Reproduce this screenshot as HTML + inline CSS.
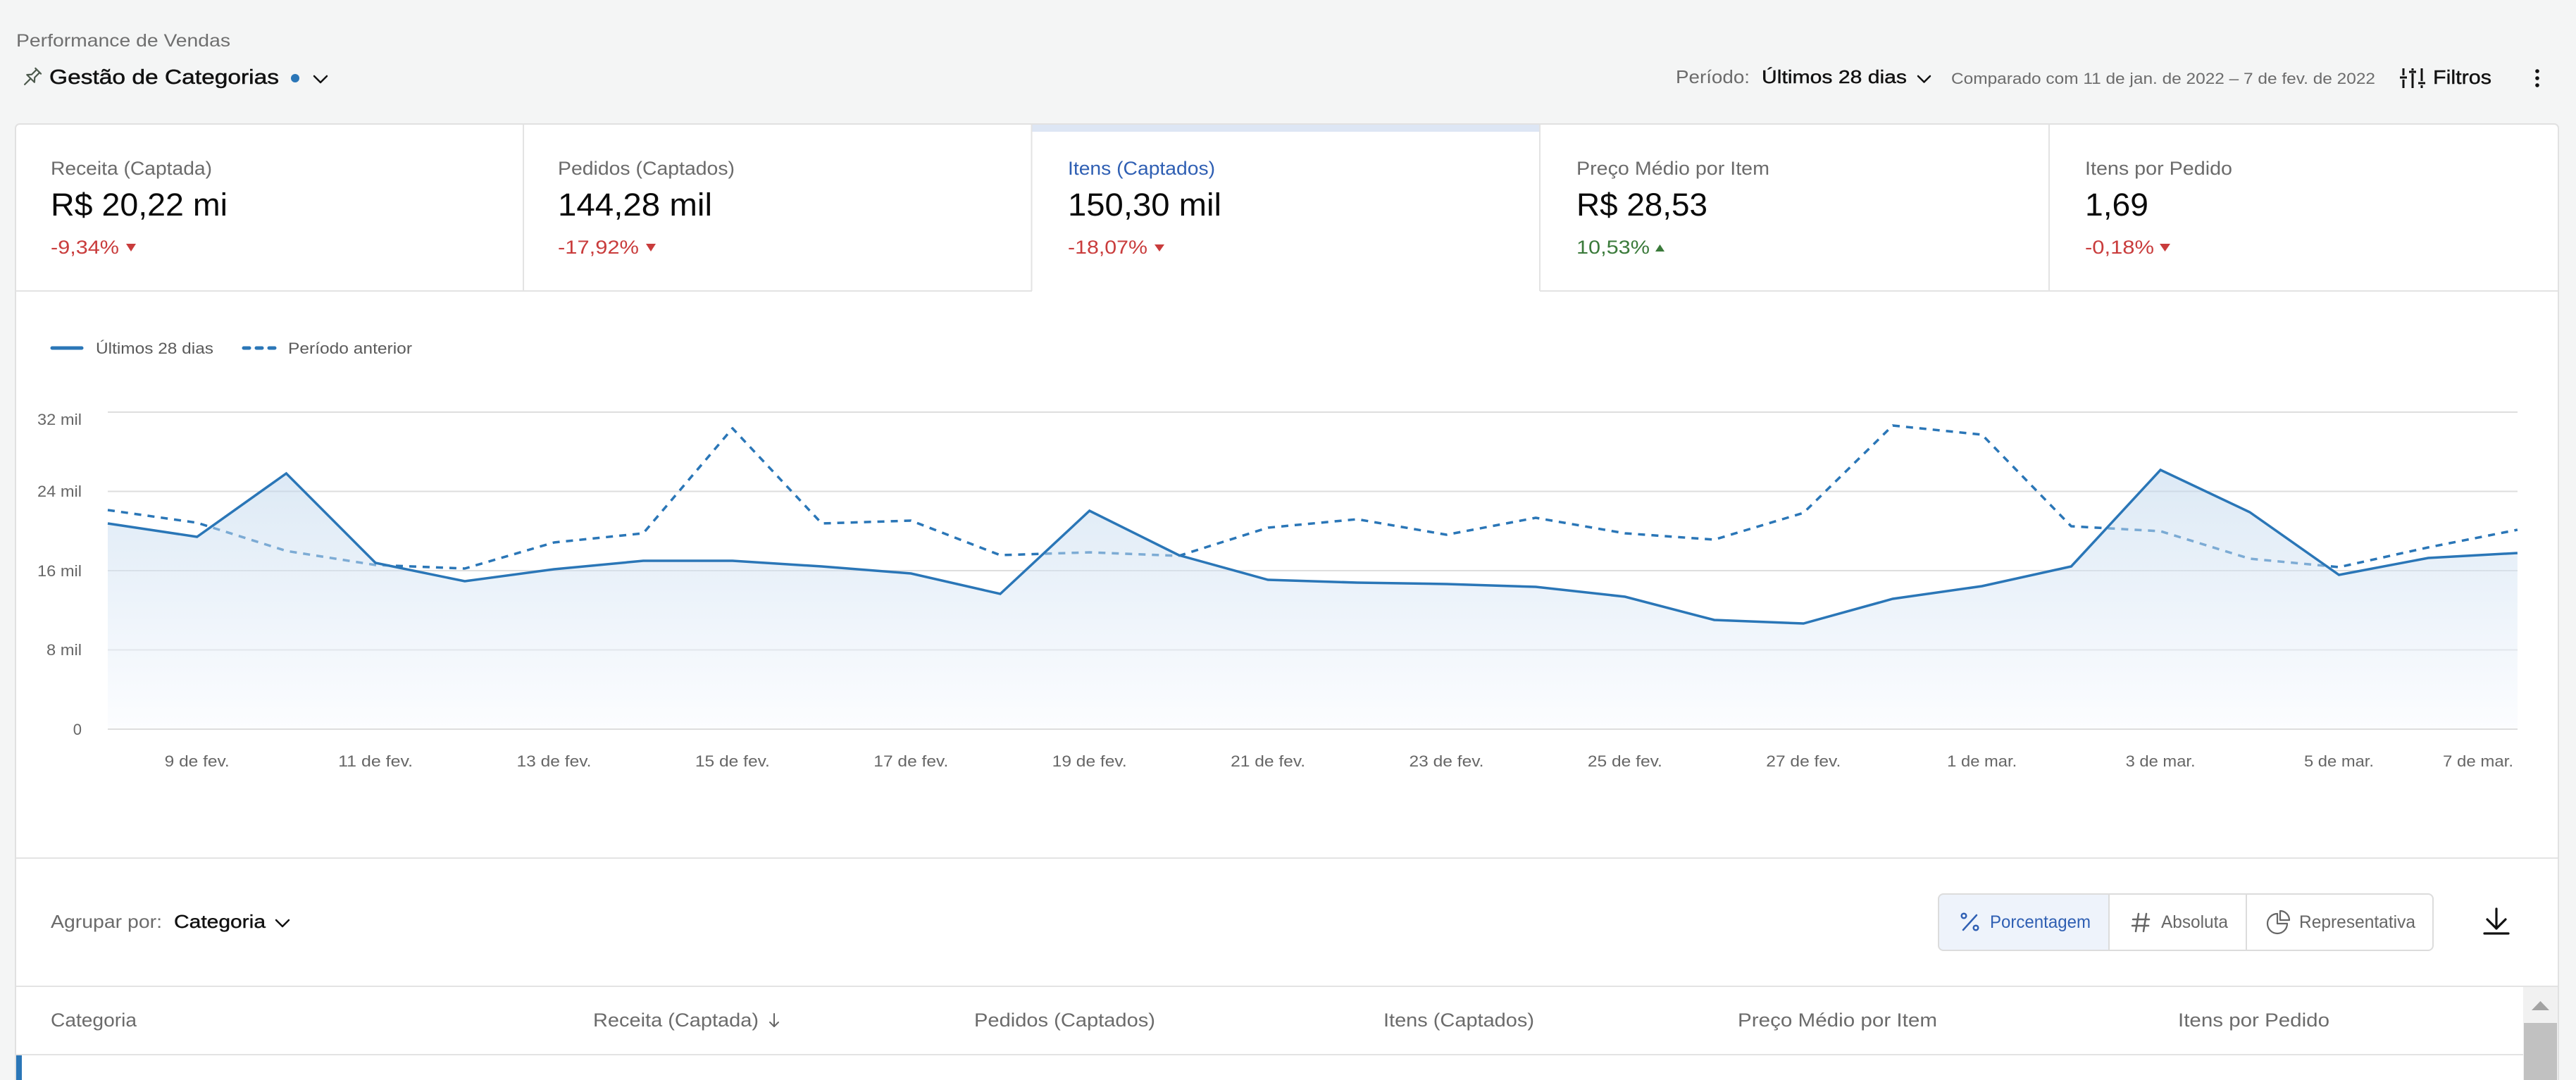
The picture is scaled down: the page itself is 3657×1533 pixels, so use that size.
<!DOCTYPE html>
<html>
<head>
<meta charset="utf-8">
<style>
  html,body{margin:0;padding:0;background:#f4f5f5;}
  svg{display:block;}
  text{font-family:"Liberation Sans", sans-serif;}
</style>
</head>
<body>
<svg width="3657" height="1533" viewBox="0 0 3657 1533" xmlns="http://www.w3.org/2000/svg">
  <defs>
    <linearGradient id="areaGrad" gradientUnits="userSpaceOnUse" x1="0" y1="585" x2="0" y2="1035">
      <stop offset="0" stop-color="#adcbe7"/>
      <stop offset="1" stop-color="#f9fbff"/>
    </linearGradient>
  </defs>

  <!-- page background -->
  <rect x="0" y="0" width="3657" height="1533" fill="#f4f5f5"/>

  <!-- ===== Top header ===== -->
  <text x="23" y="66" font-size="25" fill="#6f6f6f" textLength="304" lengthAdjust="spacingAndGlyphs">Performance de Vendas</text>

  <!-- pin icon -->
  <g transform="translate(45,110) rotate(45)" stroke="#4d5a4d" stroke-width="2.2" fill="none" stroke-linejoin="round" stroke-linecap="round">
    <path d="M-5.5,-13 H5.5 M-3,-13 V-3 L-7.5,2 H7.5 L3,-3 V-13 M0,2 V14"/>
  </g>
  <text x="70" y="119" font-size="29" fill="#111" stroke="#111" stroke-width="0.5" textLength="326" lengthAdjust="spacingAndGlyphs">Gestão de Categorias</text>
  <circle cx="419" cy="111" r="6" fill="#2a76b7"/>
  <polyline points="446,108 455,117 464,108" fill="none" stroke="#111" stroke-width="2.5" stroke-linecap="round" stroke-linejoin="round"/>

  <!-- right header -->
  <text x="2379" y="118" font-size="26" fill="#6b6b6b" textLength="105" lengthAdjust="spacingAndGlyphs">Período:</text>
  <text x="2501" y="118" font-size="26" fill="#111" stroke="#111" stroke-width="0.4" textLength="206" lengthAdjust="spacingAndGlyphs">Últimos 28 dias</text>
  <polyline points="2723,108 2731.5,116.5 2740,108" fill="none" stroke="#111" stroke-width="2.5" stroke-linecap="round" stroke-linejoin="round"/>
  <text x="2770" y="119" font-size="22" fill="#6b6b6b" textLength="602" lengthAdjust="spacingAndGlyphs">Comparado com 11 de jan. de 2022 – 7 de fev. de 2022</text>

  <!-- filter icon -->
  <g stroke="#111" stroke-width="3" stroke-linecap="butt">
    <line x1="3412" y1="97" x2="3412" y2="107"/>
    <line x1="3412" y1="113" x2="3412" y2="125"/>
    <line x1="3407" y1="110" x2="3417" y2="110"/>
    <line x1="3425" y1="97" x2="3425" y2="100"/>
    <line x1="3425" y1="104" x2="3425" y2="125"/>
    <line x1="3420" y1="102" x2="3430" y2="102"/>
    <line x1="3438" y1="97" x2="3438" y2="115"/>
    <line x1="3438" y1="121" x2="3438" y2="125"/>
    <line x1="3433" y1="118" x2="3443" y2="118"/>
  </g>
  <text x="3454" y="119" font-size="28" fill="#111" stroke="#111" stroke-width="0.4" textLength="83" lengthAdjust="spacingAndGlyphs">Filtros</text>
  <circle cx="3602" cy="101" r="2.8" fill="#111"/>
  <circle cx="3602" cy="111" r="2.8" fill="#111"/>
  <circle cx="3602" cy="121" r="2.8" fill="#111"/>

  <!-- ===== Main card ===== -->
  <rect x="22" y="176" width="3610" height="1420" rx="6" fill="#ffffff" stroke="#e1e1e1" stroke-width="2"/>

  <!-- KPI row -->
  <rect x="1465" y="177" width="720" height="10" fill="#dde6f4"/>
  <g stroke="#e3e3e3" stroke-width="2">
    <line x1="743" y1="177" x2="743" y2="413"/>
    <line x1="1464.5" y1="177" x2="1464.5" y2="413"/>
    <line x1="2186" y1="177" x2="2186" y2="413"/>
    <line x1="2909" y1="177" x2="2909" y2="413"/>
    <line x1="22" y1="413" x2="1465" y2="413"/>
    <line x1="2186" y1="413" x2="3632" y2="413"/>
  </g>

  <!-- card 1 -->
  <text x="72" y="248" font-size="27" fill="#6b6b6b" textLength="229" lengthAdjust="spacingAndGlyphs">Receita (Captada)</text>
  <text x="72" y="306" font-size="45" fill="#0a0a0a" textLength="251" lengthAdjust="spacingAndGlyphs">R$ 20,22 mi</text>
  <text x="72" y="360" font-size="27" fill="#c93c3c" textLength="97" lengthAdjust="spacingAndGlyphs">-9,34%</text>
  <polygon points="179,346 193,346 186,357" fill="#c93c3c"/>

  <!-- card 2 -->
  <text x="792" y="248" font-size="27" fill="#6b6b6b" textLength="251" lengthAdjust="spacingAndGlyphs">Pedidos (Captados)</text>
  <text x="792" y="306" font-size="45" fill="#0a0a0a" textLength="219" lengthAdjust="spacingAndGlyphs">144,28 mil</text>
  <text x="792" y="360" font-size="27" fill="#c93c3c" textLength="115" lengthAdjust="spacingAndGlyphs">-17,92%</text>
  <polygon points="917,346 931,346 924,357" fill="#c93c3c"/>

  <!-- card 3 (selected) -->
  <text x="1516" y="248" font-size="27" fill="#2f5fb3" textLength="209" lengthAdjust="spacingAndGlyphs">Itens (Captados)</text>
  <text x="1516" y="306" font-size="45" fill="#0a0a0a" textLength="218" lengthAdjust="spacingAndGlyphs">150,30 mil</text>
  <text x="1516" y="360" font-size="27" fill="#c93c3c" textLength="113" lengthAdjust="spacingAndGlyphs">-18,07%</text>
  <polygon points="1639,347 1653,347 1646,357" fill="#c93c3c"/>

  <!-- card 4 -->
  <text x="2238" y="248" font-size="27" fill="#6b6b6b" textLength="274" lengthAdjust="spacingAndGlyphs">Preço Médio por Item</text>
  <text x="2238" y="306" font-size="45" fill="#0a0a0a" textLength="186" lengthAdjust="spacingAndGlyphs">R$ 28,53</text>
  <text x="2238" y="360" font-size="27" fill="#3a7a3a" textLength="104" lengthAdjust="spacingAndGlyphs">10,53%</text>
  <polygon points="2350,357 2363,357 2356.5,347" fill="#3a7a3a"/>

  <!-- card 5 -->
  <text x="2960" y="248" font-size="27" fill="#6b6b6b" textLength="209" lengthAdjust="spacingAndGlyphs">Itens por Pedido</text>
  <text x="2960" y="306" font-size="45" fill="#0a0a0a" textLength="90" lengthAdjust="spacingAndGlyphs">1,69</text>
  <text x="2960" y="360" font-size="27" fill="#c93c3c" textLength="98" lengthAdjust="spacingAndGlyphs">-0,18%</text>
  <polygon points="3066,346 3081,346 3073.5,357" fill="#c93c3c"/>

  <!-- ===== Legend ===== -->
  <line x1="74" y1="494" x2="116" y2="494" stroke="#2a76b7" stroke-width="5" stroke-linecap="round"/>
  <text x="136" y="502" font-size="22" fill="#5a5a5a" textLength="167" lengthAdjust="spacingAndGlyphs">Últimos 28 dias</text>
  <g stroke="#2a76b7" stroke-width="5" stroke-linecap="round">
    <line x1="346" y1="494" x2="354" y2="494"/>
    <line x1="364" y1="494" x2="372" y2="494"/>
    <line x1="382" y1="494" x2="390" y2="494"/>
  </g>
  <text x="409" y="502" font-size="22" fill="#5a5a5a" textLength="176" lengthAdjust="spacingAndGlyphs">Período anterior</text>

  <!-- ===== Chart ===== -->
  <!-- gridlines -->
  <g stroke="#dedede" stroke-width="2">
    <line x1="153" y1="585" x2="3574" y2="585"/>
    <line x1="153" y1="697.5" x2="3574" y2="697.5"/>
    <line x1="153" y1="810" x2="3574" y2="810"/>
    <line x1="153" y1="922.5" x2="3574" y2="922.5"/>
    <line x1="153" y1="1035" x2="3574" y2="1035"/>
  </g>
  <!-- y labels -->
  <g font-size="22" fill="#666" text-anchor="end">
    <text x="116" y="603" textLength="63" lengthAdjust="spacingAndGlyphs">32 mil</text>
    <text x="116" y="705" textLength="63" lengthAdjust="spacingAndGlyphs">24 mil</text>
    <text x="116" y="818" textLength="63" lengthAdjust="spacingAndGlyphs">16 mil</text>
    <text x="116" y="930" textLength="50" lengthAdjust="spacingAndGlyphs">8 mil</text>
    <text x="116" y="1043">0</text>
  </g>

  <!-- dashed series (previous period) -->
  <polyline fill="none" stroke="#2a76b7" stroke-width="3.5" stroke-dasharray="10,9" stroke-linejoin="round"
    points="153,724 279.7,742 406.4,782 533.1,802 659.8,807 786.5,770 913.2,757 1039.9,608 1166.6,743 1293.3,739 1420,788 1546.7,784 1673.4,789 1800.1,749 1926.8,737 2053.5,759 2180.2,735 2306.9,757 2433.6,766 2560.3,728 2687,604 2813.7,617 2940.4,747 3067.1,754 3193.8,793 3320.5,805 3447.2,777 3573.9,752"/>

  <!-- area -->
  <polygon fill="url(#areaGrad)" fill-opacity="0.5"
    points="153,743 279.7,762 406.4,672 533.1,799 659.8,825 786.5,808 913.2,796 1039.9,796 1166.6,804 1293.3,814 1420,843 1546.7,725 1673.4,788 1800.1,823 1926.8,827 2053.5,829 2180.2,833 2306.9,847 2433.6,880 2560.3,885 2687,850 2813.7,832 2940.4,804 3067.1,667 3193.8,727 3320.5,816 3447.2,792 3573.9,785 3573.9,1034 153,1034"/>

  <!-- solid series -->
  <polyline fill="none" stroke="#2a76b7" stroke-width="3.5" stroke-linejoin="miter"
    points="153,743 279.7,762 406.4,672 533.1,799 659.8,825 786.5,808 913.2,796 1039.9,796 1166.6,804 1293.3,814 1420,843 1546.7,725 1673.4,788 1800.1,823 1926.8,827 2053.5,829 2180.2,833 2306.9,847 2433.6,880 2560.3,885 2687,850 2813.7,832 2940.4,804 3067.1,667 3193.8,727 3320.5,816 3447.2,792 3573.9,785"/>

  <!-- x labels -->
  <g font-size="22" fill="#666" text-anchor="middle">
    <text x="279.7" y="1088" textLength="92" lengthAdjust="spacingAndGlyphs">9 de fev.</text>
    <text x="533.1" y="1088" textLength="106" lengthAdjust="spacingAndGlyphs">11 de fev.</text>
    <text x="786.5" y="1088" textLength="106" lengthAdjust="spacingAndGlyphs">13 de fev.</text>
    <text x="1039.9" y="1088" textLength="106" lengthAdjust="spacingAndGlyphs">15 de fev.</text>
    <text x="1293.3" y="1088" textLength="106" lengthAdjust="spacingAndGlyphs">17 de fev.</text>
    <text x="1546.7" y="1088" textLength="106" lengthAdjust="spacingAndGlyphs">19 de fev.</text>
    <text x="1800.1" y="1088" textLength="106" lengthAdjust="spacingAndGlyphs">21 de fev.</text>
    <text x="2053.5" y="1088" textLength="106" lengthAdjust="spacingAndGlyphs">23 de fev.</text>
    <text x="2306.9" y="1088" textLength="106" lengthAdjust="spacingAndGlyphs">25 de fev.</text>
    <text x="2560.3" y="1088" textLength="106" lengthAdjust="spacingAndGlyphs">27 de fev.</text>
    <text x="2813.7" y="1088" textLength="99" lengthAdjust="spacingAndGlyphs">1 de mar.</text>
    <text x="3067.1" y="1088" textLength="99" lengthAdjust="spacingAndGlyphs">3 de mar.</text>
    <text x="3320.5" y="1088" textLength="99" lengthAdjust="spacingAndGlyphs">5 de mar.</text>
    <text x="3568" y="1088" text-anchor="end" textLength="100" lengthAdjust="spacingAndGlyphs">7 de mar.</text>
  </g>

  <!-- ===== Controls section ===== -->
  <line x1="23" y1="1218" x2="3631" y2="1218" stroke="#e3e3e3" stroke-width="2"/>
  <text x="72" y="1317" font-size="26" fill="#6b6b6b" textLength="158" lengthAdjust="spacingAndGlyphs">Agrupar por:</text>
  <text x="247" y="1317" font-size="26" fill="#111" stroke="#111" stroke-width="0.4" textLength="130" lengthAdjust="spacingAndGlyphs">Categoria</text>
  <polyline points="392,1306 401,1315 410,1306" fill="none" stroke="#111" stroke-width="2.5" stroke-linecap="round" stroke-linejoin="round"/>

  <!-- segmented buttons -->
  <path d="M2994,1269 H2758 A6,6 0 0 0 2752,1275 V1343 A6,6 0 0 0 2758,1349 H2994 Z" fill="#eef3fb"/>
  <rect x="2752" y="1269" width="702" height="80" rx="7" fill="none" stroke="#dcdcdc" stroke-width="2"/>
  <line x1="2994" y1="1269" x2="2994" y2="1349" stroke="#dcdcdc" stroke-width="2"/>
  <line x1="3189" y1="1269" x2="3189" y2="1349" stroke="#dcdcdc" stroke-width="2"/>

  <!-- % icon -->
  <g stroke="#2f5fb3" stroke-width="2.5" fill="none" stroke-linecap="round">
    <line x1="2787" y1="1320" x2="2806" y2="1299"/>
    <circle cx="2788" cy="1300" r="3.3"/>
    <circle cx="2805" cy="1317" r="3.3"/>
  </g>
  <text x="2825" y="1317" font-size="25" fill="#2f5fb3" textLength="143" lengthAdjust="spacingAndGlyphs">Porcentagem</text>

  <!-- # icon -->
  <g stroke="#666" stroke-width="2.5" stroke-linecap="round">
    <line x1="3036" y1="1297" x2="3032" y2="1322"/>
    <line x1="3047" y1="1297" x2="3043" y2="1322"/>
    <line x1="3028" y1="1305" x2="3051" y2="1305"/>
    <line x1="3027" y1="1314" x2="3050" y2="1314"/>
  </g>
  <text x="3068" y="1317" font-size="25" fill="#666" textLength="95" lengthAdjust="spacingAndGlyphs">Absoluta</text>

  <!-- pie icon -->
  <g stroke="#666" stroke-width="2.2" fill="none" stroke-linejoin="round">
    <path d="M3233,1297 A14,14 0 1 0 3247,1311 L3233,1311 Z"/>
    <path d="M3237,1293 A13,13 0 0 1 3250,1306 L3237,1306 Z"/>
  </g>
  <text x="3264" y="1317" font-size="25" fill="#666" textLength="165" lengthAdjust="spacingAndGlyphs">Representativa</text>

  <!-- download icon -->
  <g stroke="#111" stroke-width="3.2" fill="none" stroke-linecap="round" stroke-linejoin="round">
    <line x1="3544" y1="1290" x2="3544" y2="1318"/>
    <polyline points="3531,1305 3544,1318 3557,1305"/>
    <line x1="3527" y1="1325" x2="3561" y2="1325"/>
  </g>

  <!-- ===== Table header ===== -->
  <line x1="23" y1="1400" x2="3631" y2="1400" stroke="#e3e3e3" stroke-width="2"/>
  <g font-size="27" fill="#6b6b6b">
    <text x="72" y="1457" textLength="122" lengthAdjust="spacingAndGlyphs">Categoria</text>
    <text x="842" y="1457" textLength="235" lengthAdjust="spacingAndGlyphs">Receita (Captada)</text>
    <text x="1383" y="1457" textLength="257" lengthAdjust="spacingAndGlyphs">Pedidos (Captados)</text>
    <text x="1964" y="1457" textLength="214" lengthAdjust="spacingAndGlyphs">Itens (Captados)</text>
    <text x="2467" y="1457" textLength="283" lengthAdjust="spacingAndGlyphs">Preço Médio por Item</text>
    <text x="3092" y="1457" textLength="215" lengthAdjust="spacingAndGlyphs">Itens por Pedido</text>
  </g>
  <g stroke="#666" stroke-width="2" fill="none" stroke-linecap="round" stroke-linejoin="round">
    <line x1="1099" y1="1439" x2="1099" y2="1457"/>
    <polyline points="1093,1451 1099,1457 1105,1451"/>
  </g>
  <line x1="23" y1="1497" x2="3582" y2="1497" stroke="#e3e3e3" stroke-width="2"/>
  <rect x="23" y="1498" width="8" height="35" fill="#2a76b7"/>

  <!-- scrollbar -->
  <rect x="3582" y="1401" width="49" height="132" fill="#f1f1f1"/>
  <polygon points="3594,1434 3619,1434 3606.5,1421" fill="#a3a3a3"/>
  <rect x="3583" y="1452" width="47" height="81" fill="#c1c1c1"/>
</svg>
</body>
</html>
